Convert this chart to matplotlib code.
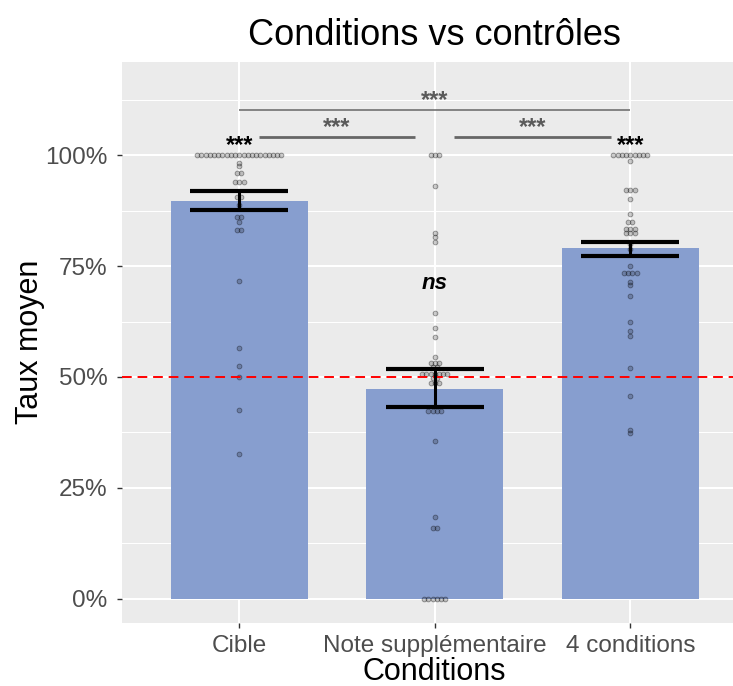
import matplotlib
matplotlib.use('Agg')
import matplotlib.pyplot as plt
from matplotlib.ticker import MultipleLocator, FuncFormatter

plt.rcParams['font.family'] = ['Liberation Sans', 'DejaVu Sans']

# Taux moyen par condition (%) et intervalle de l'erreur
conditions = ['Cible', 'Note supplémentaire', '4 conditions']
means = [89.6, 47.3, 79.1]
err_low = [87.6, 43.2, 77.3]
err_high = [91.8, 51.8, 80.5]

# valeurs individuelles (%) et nombre de points empilés à chaque valeur
cible_vals = [100, 98.2, 97.5, 96, 94, 90.6, 88.7, 86.1, 85, 83.1, 71.6, 56.5, 52.5, 50, 42.6, 32.7]
cible_counts = [21, 1, 1, 2, 3, 2, 1, 2, 1, 2, 1, 1, 1, 1, 1, 1]

note_vals = [100, 93, 82.5, 81.5, 80.5, 64.5, 61.1, 59.1, 54.6, 53.1, 52.3, 50.6, 49.8,
             48.6, 42.3, 35.6, 18.5, 15.9, 0]
note_counts = [3, 1, 1, 1, 1, 1, 1, 1, 1, 3, 2, 7, 2, 3, 4, 1, 1, 2, 6]

cond4_vals = [100, 98.6, 92.1, 90, 86.7, 84.8, 83.3, 82.4, 79.9, 78.8, 75.1, 73.4, 71.5,
              70.7, 68.2, 62.5, 60.4, 59.2, 52, 45.7, 38, 37.4]
cond4_counts = [9, 1, 3, 1, 1, 2, 3, 3, 1, 1, 1, 4, 1, 1, 1, 1, 1, 1, 1, 1, 1, 1]

# comparaisons entre conditions : (x1, x2, hauteur, étiquette)
comparisons = [(1, 3, 110.1, '***'), (1.1, 1.9, 104, '***'), (2.1, 2.9, 104, '***')]
# significativité vs 50 %
vs_chance = ['***', 'ns', '***']

fig = plt.figure(figsize=(7.33, 6.86), dpi=100)
ax = fig.add_axes([122 / 733, 1 - 623 / 686, (747.6 - 122) / 733, (623 - 62) / 686])
ax.set_facecolor('#EBEBEB')
for s in ax.spines.values():
    s.set_visible(False)

xs = [1, 2, 3]
ax.bar(xs, means, width=0.7, color='#879ECF', zorder=2)

groups = [(cible_vals, cible_counts), (note_vals, note_counts), (cond4_vals, cond4_counts)]
dot = 0.0215
for xi, (vals, counts) in zip(xs, groups):
    for v, n in zip(vals, counts):
        px = [xi + (k - (n - 1) / 2) * dot for k in range(n)]
        ax.scatter(px, [v] * n, s=12, facecolor=(0, 0, 0, 0.2),
                   edgecolor=(0, 0, 0, 0.38), linewidth=0.6, zorder=3)

ax.axhline(50, color='red', ls=(0, (5, 3)), lw=1.4, zorder=3.5)

lo = [m - l for m, l in zip(means, err_low)]
hi = [h - m for m, h in zip(means, err_high)]
ax.errorbar(xs, means, yerr=[lo, hi], fmt='none', ecolor='black', elinewidth=2.2,
            capsize=35, capthick=3, zorder=4)

for i, (x1, x2, y, lab) in enumerate(comparisons):
    ax.plot([x1, x2], [y, y], color='#666666', lw=1.1 if i == 0 else 2, zorder=4,
            solid_capstyle='butt')
    ax.text((x1 + x2) / 2, y + 0.8, lab, ha='center', va='baseline',
            fontsize=17, fontweight='bold', color='#5A5A5A', zorder=5)

for xi, lab in zip(xs, vs_chance):
    if lab == 'ns':
        ax.text(xi, 69.8, lab, ha='center', va='baseline', fontsize=16,
                fontweight='bold', fontstyle='italic', color='black', zorder=5)
    else:
        ax.text(xi, 100.6, lab, ha='center', va='baseline', fontsize=17,
                fontweight='bold', color='black', zorder=5)

ax.set_xlim(0.4, 3.6)
ax.set_ylim(-5.41, 120.95)
ax.set_xticks(xs)
ax.set_xticklabels(conditions)
ax.set_yticks([0, 25, 50, 75, 100])
ax.yaxis.set_minor_locator(MultipleLocator(12.5))
ax.yaxis.set_major_formatter(FuncFormatter(lambda v, _: f'{v:.0f}%'))
ax.grid(which='major', color='white', lw=1.5, zorder=0)
ax.grid(which='minor', axis='y', color='white', lw=0.75, zorder=0)
ax.set_axisbelow(True)
ax.tick_params(axis='both', which='major', color='#333333', width=1, length=3.5,
               labelsize=17.5, labelcolor='#4D4D4D')
ax.tick_params(axis='x', pad=5)
ax.tick_params(axis='y', pad=7)
ax.tick_params(which='minor', length=0)

fig.text(434 / 733, 1 - 45 / 686, 'Conditions vs contrôles', ha='center', va='baseline',
         fontsize=26, color='black')
fig.text(434 / 733, 1 - 680 / 686, 'Conditions', ha='center', va='baseline',
         fontsize=22, color='black')
fig.text(30 / 733, 1 - 342 / 686, 'Taux moyen', ha='center', va='center',
         rotation=90, fontsize=22, color='black')

fig.savefig('out.png', dpi=100)
